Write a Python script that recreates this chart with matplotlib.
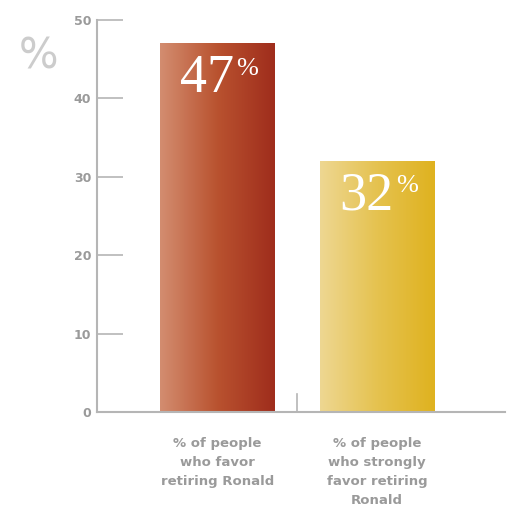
import matplotlib.pyplot as plt
import numpy as np
from matplotlib.colors import LinearSegmentedColormap

categories = ['% of people\nwho favor\nretiring Ronald',
              '% of people\nwho strongly\nfavor retiring\nRonald']
values = [47, 32]
value_labels = ['47', '32']
yticks = [0, 10, 20, 30, 40, 50]
gradients = [('#d38d70', '#b9522f', '#9f2d1c'),
             ('#eed792', '#e5c24f', '#dfb21f')]

fig = plt.figure(figsize=(5.1, 5.12), dpi=100)
ax = fig.add_axes([0.19, 0.195, 0.80, 0.766])

x = np.arange(len(values))
width = 0.715
bars = ax.bar(x, values, width=width, color='none')

grad = np.linspace(0, 1, 256).reshape(1, -1)
for bar, cols in zip(bars, gradients):
    cmap = LinearSegmentedColormap.from_list('g', cols)
    bx, by = bar.get_x(), bar.get_y()
    bw, bh = bar.get_width(), bar.get_height()
    im = ax.imshow(grad, cmap=cmap, aspect='auto',
                   extent=[bx, bx + bw, by, by + bh], zorder=2)
    im.set_clip_path(bar)

for xi, v, lab in zip(x, values, value_labels):
    ax.text(xi - 0.065, v - 4.5, lab, ha='center', va='center',
            fontsize=39, color='white', family='Liberation Serif', zorder=3)
    ax.text(xi + 0.185, v - 3.2, '%', ha='center', va='center',
            fontsize=19, color='white', family='Liberation Serif', zorder=3)

ax.set_xlim(-0.755, 1.8)
ax.set_ylim(0, 50)
ax.set_yticks(yticks)
ax.set_yticklabels([str(t) for t in yticks])
ax.tick_params(axis='y', direction='in', length=19, width=1.2, color='#b5b5b5',
               labelcolor='#9a9a9a', labelsize=9, pad=4)
ax.set_xticks(x)
ax.set_xticklabels(categories, fontsize=9.5, color='#9a9a9a', fontweight='bold',
                   linespacing=1.6, va='top')
ax.tick_params(axis='x', length=0, pad=18)
for lbl in ax.get_yticklabels():
    lbl.set_fontweight('bold')

# small divider tick between the bars
ax.plot([0.5, 0.5], [0, 2.3], color='#b5b5b5', lw=1.2, zorder=1)

for side in ['top', 'right']:
    ax.spines[side].set_visible(False)
for side in ['left', 'bottom']:
    ax.spines[side].set_color('#b5b5b5')
    ax.spines[side].set_linewidth(1.5)

fig.text(0.075, 0.89, '%', fontsize=30, color='#cccccc', ha='center', va='center')

fig.savefig('out.png', dpi=100, facecolor='white')
